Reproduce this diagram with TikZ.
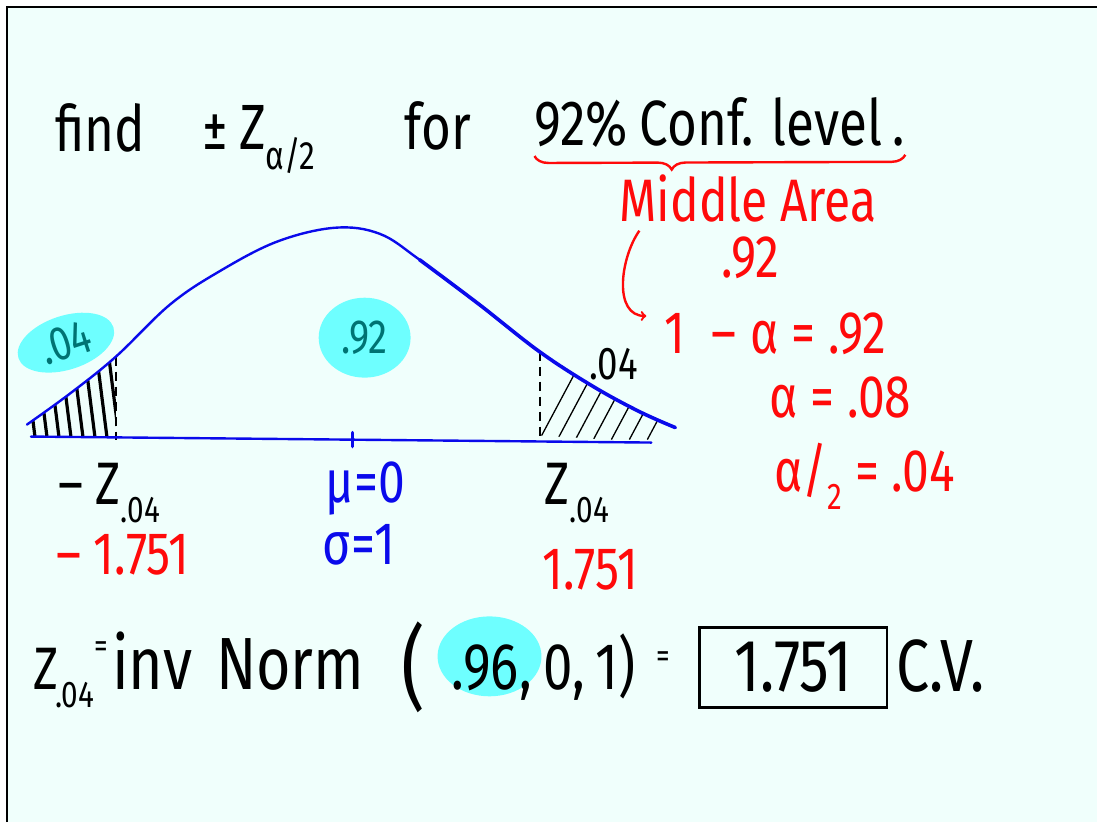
\documentclass[tikz,border=0pt]{standalone}
\usepackage{fontspec}
\setmainfont[FakeStretch=0.8]{Fira Sans}
\usetikzlibrary{positioning,shapes.geometric,decorations.pathreplacing}
\definecolor{board}{RGB}{240,255,252}
\definecolor{hilite}{RGB}{110,255,255}
\definecolor{inkred}{RGB}{255,10,10}
\definecolor{inkblue}{RGB}{10,10,235}
\definecolor{inkteal}{RGB}{0,115,115}
\newcommand{\sub}[1]{\raisebox{-0.3em}{\fontsize{0.62em}{0.62em}\selectfont #1}}

\begin{document}
\begin{tikzpicture}[x=1pt, y=-1pt,
  big/.style={font=\fontsize{64}{68}\selectfont, inner sep=0pt, anchor=base west},
  mid/.style={font=\fontsize{60}{64}\selectfont, inner sep=0pt, anchor=base west},
  low/.style={font=\fontsize{74}{78}\selectfont, inner sep=0pt, anchor=base west},
  blob/.style={ellipse, fill=hilite, inner sep=2pt, text=inkteal},
  bell/.style={inkblue, line width=2.4pt, line cap=round, line join=round},
  cut/.style={black, line width=2pt, dash pattern=on 9pt off 6pt}]
  % board
  \fill[white] (0,0) rectangle (1098,823);
  \fill[board] (7,7) rectangle (1098,823);
  \draw[line width=2.2pt] (7,823) -- (7,7) -- (1098,7);

  % heading
  \node[big] (find) at (55,152) {find};
  \node[big] (pm) at (203,150) {±\,Z\sub{α/2}};
  \node[big] (for) at (405,150) {for};
  \node[big] (pct) at (535,146) {92\%};
  \node[big] (conf) at (640,146) {Conf. level\,.};
  \draw[inkred, line width=2.4pt, decorate,
        decoration={brace, mirror, amplitude=14pt, aspect=0.37}]
    ([yshift=-8pt]pct.south west) -- ([yshift=-8pt]conf.south east);

  % red working
  \node[mid, inkred] (area) at (620,222) {Middle Area};
  \node[mid, inkred] (r92) at (722,278) {.92};
  \node[mid, inkred] (eq1) at (665,354) {1\hspace{26pt}–\hspace{14pt}α = .92};
  \node[mid, inkred] (eq2) at (770,418) {α = .08};
  \node[mid, inkred] (eq3) at (775,492) {α/\sub{2} = .04};
  \draw[inkred, line width=2.4pt, ->] ([xshift=20pt,yshift=-8pt]area.south west)
    to[out=235, in=180] ([xshift=-18pt,yshift=18pt]eq1.west);

  % tails
  \begin{scope}
    \clip (27,425) -- (70,394) -- (116,357) -- (116,438) -- (31,438) -- cycle;
    \foreach \x in {32,44,...,116}
      \draw[line width=3.2pt] (\x-8,350) -- (\x+4,445);
  \end{scope}
  \begin{scope}
    \clip (540,352) -- (594,387) -- (640,412) -- (676,428) -- (660,443)
      -- (540,436) -- cycle;
    \foreach \x in {540,558,...,660}
      \draw[line width=1.3pt] (\x,440) -- (\x+40,365);
  \end{scope}
  \draw[cut] (116,357) -- (116,440);
  \draw[cut] (541,352) -- (541,436);

  % bell curve
  \draw[bell] (31,437) -- (652,443);
  \draw[bell] plot[smooth, tension=0.6] coordinates {(27,425) (70,394) (116,357)
    (170,305) (219,272) (277,242) (335,228) (380,234) (420,260) (480,305)};
  \draw[bell, line width=3.6pt] plot[smooth, tension=0.6] coordinates {(420,260)
    (480,305) (540,352) (594,387) (640,412) (676,428)};
  \draw[bell, line width=3.6pt] (353,433) -- (353,447);

  % areas
  \node[blob, minimum width=100pt, minimum height=54pt, rotate=18,
        font=\fontsize{48}{52}\selectfont] (lft) at (66,343) {.04};
  \node[blob, minimum width=92pt, minimum height=80pt,
        font=\fontsize{48}{52}\selectfont] (ctr) at (365,338) {.92};
  \node[font=\fontsize{46}{50}\selectfont, inner sep=0pt] (rgt) at (614,365) {.04};

  % labels under the axis
  \node[mid] (lz) at (58,505) {– Z\sub{.04}};
  \node[mid, inkred] (lv) at (56,575) {– 1.751};
  \node[mid, inkblue] (mu) at (326,503) {μ=0};
  \node[mid, inkblue] (sd) at (323,565) {σ=1};
  \node[mid] (rz) at (545,505) {Z\sub{.04}};
  \node[mid, inkred] (rv) at (543,590) {1.751};

  % invNorm line
  \node[mid] (zq) at (33,690) {Z\sub{\kern-3pt.04}};
  \node[font=\fontsize{34}{36}\selectfont, inner sep=0pt] (zeq) at (101,650) {=};
  \node[low] (inv) at (112,690) {inv\hspace{24pt}Norm};
  \node[font=\fontsize{92}{96}\selectfont, inner sep=0pt, anchor=base west] (lp) at (402,700) {(};
  \node[blob, minimum width=104pt, minimum height=80pt, text=black,
        font=\fontsize{70}{74}\selectfont] (p96) at (490,657) {};
  \node[low, font=\fontsize{66}{70}\selectfont] (v96) at (452,690) {.96};
  \node[low, font=\fontsize{66}{70}\selectfont] (args) at (520,690) {,\,0,\,1)};
  \node[font=\fontsize{34}{36}\selectfont, inner sep=0pt] (ceq) at (664,660) {=};
  \node[low, draw, line width=2.4pt, minimum width=188pt, minimum height=80pt,
        anchor=center] (cv) at (794,668) {1.751};
  \node[low, base right=8pt of cv] (cvl) {C.V.};
\end{tikzpicture}
\end{document}
